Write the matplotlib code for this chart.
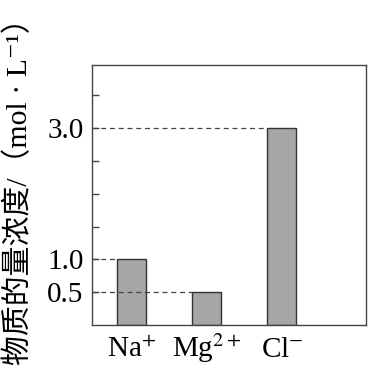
import numpy as np
import matplotlib.pyplot as plt

plt.rcParams['font.family'] = ['Liberation Serif', 'Noto Sans CJK SC', 'DejaVu Sans']
plt.rcParams['mathtext.fontset'] = 'stix'

ions = [r'Na$^{+}$', r'Mg$^{2+}$', r'Cl$^{-}$']
conc = [1.0, 0.5, 3.0]
ytick_vals = [0.5, 1.0, 1.5, 2.0, 2.5, 3.0, 3.5]
ytick_labels = ['0.5', '1.0', '', '', '', '3.0', '']
ylabel = '物质的量浓度/（mol · L⁻¹）'

fig = plt.figure(figsize=(3.70, 3.68), dpi=100)
ax = fig.add_axes([0.2486, 0.1168, 0.7405, 0.7065])

x = np.arange(len(ions))
w = 0.387
ax.bar(x, conc, width=w, color='#a6a6a6', edgecolor='#333333', linewidth=1.0, zorder=2)

x0 = -0.527
for xi, v in zip(x, conc):
    ax.plot([x0, xi - w / 2], [v, v], color='#444444', lw=0.9,
            linestyle=(0, (4, 3)), zorder=3)

ax.set_xlim(x0, 3.12)
ax.set_ylim(0, 3.96)
ax.set_xticks(x)
ax.set_xticklabels(ions, fontsize=21, va='baseline')
ax.tick_params(axis='x', length=0, pad=23)
ax.set_yticks(ytick_vals)
ax.set_yticklabels(ytick_labels, fontsize=21)
ax.tick_params(axis='y', direction='in', length=5, width=1.0, color='#444444', pad=6)
for s in ax.spines.values():
    s.set_color('#444444')
    s.set_linewidth(1.0)

fig.text(0.05, 0.5, ylabel, rotation=90, ha='center', va='center', fontsize=21.5)

fig.savefig('out.png', dpi=100)
